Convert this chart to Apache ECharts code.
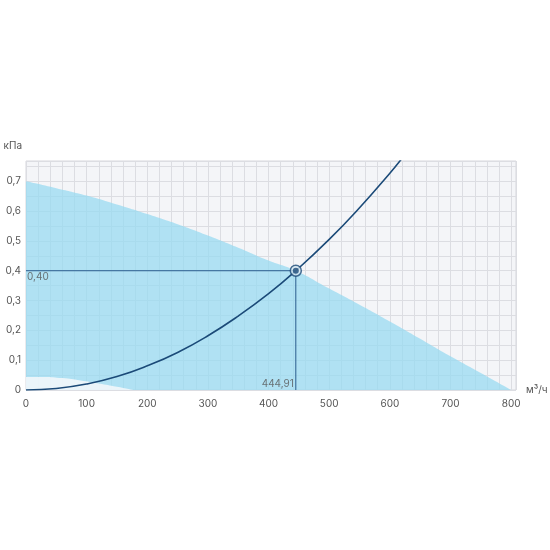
<!DOCTYPE html>
<html>
<head>
<meta charset="utf-8">
<script src="https://cdn.jsdelivr.net/npm/echarts@6/dist/echarts.min.js"></script>
<style>
  html, body { margin: 0; padding: 0; background: #fff; }
  #chart { width: 550px; height: 550px; }
</style>
</head>
<body>
<div id="chart"></div>
<script>
// fan pressure curve (upper edge of the blue zone), m3/h -> kPa
const fanFlow = [0, 50, 100, 150, 200, 250, 300, 350, 400, 444.91, 500, 550, 600, 650, 700, 750, 800];
const fanPressure = [0.700, 0.677, 0.652, 0.622, 0.590, 0.556, 0.518, 0.477, 0.434, 0.400, 0.340, 0.286, 0.230, 0.172, 0.113, 0.057, 0.000];

// white cut-out at the bottom left
const lowFlow = [0, 30, 60, 90, 120, 150, 178];
const lowPressure = [0.044, 0.044, 0.040, 0.032, 0.022, 0.011, 0.000];

// network curve
const netFlow = [0, 50, 100, 150, 200, 250, 300, 350, 400, 444.91, 500, 550, 600, 620];
const netPressure = [0, 0.005, 0.020, 0.045, 0.081, 0.126, 0.182, 0.248, 0.323, 0.400, 0.505, 0.611, 0.727, 0.777];

// working point
const opFlow = 444.91;
const opPressure = 0.40;

const xName = 'м³/ч';
const yName = 'кПа';

const zip = (a, b) => a.map((v, i) => [v, b[i]]);
const comma = (v, d) => v.toFixed(d).replace('.', ',');

const font = 'Inter, Roboto, sans-serif';
const txt = '#555';
const gridLine = '#dcdde2';
const navy = '#1b4a78';

const chart = echarts.init(document.getElementById('chart'));

const option = {
  animation: false,
  textStyle: { fontFamily: font },
  grid: {
    left: 26, right: 34, top: 161, bottom: 160,
    show: true,
    backgroundColor: '#f4f5f8',
    borderColor: '#d6d7dc',
    borderWidth: 1
  },
  xAxis: {
    type: 'value',
    min: 0, max: 808, interval: 20,
    name: xName,
    nameLocation: 'end',
    nameGap: 10,
    nameTextStyle: { color: txt, fontSize: 10, fontFamily: font, padding: [27, 0, 0, 0] },
    axisLine: { show: false },
    axisTick: { show: false },
    axisLabel: {
      color: txt, fontSize: 10, fontFamily: font, margin: 9,
      formatter: v => (Math.round(v) % 100 === 0 ? String(Math.round(v)) : '')
    },
    splitLine: { show: true, lineStyle: { color: gridLine, width: 1 } }
  },
  yAxis: {
    type: 'value',
    min: 0, max: 0.768, interval: 0.05,
    name: yName,
    nameLocation: 'end',
    nameGap: 10,
    nameTextStyle: { color: txt, fontSize: 10, fontFamily: font, align: 'right', padding: [0, 4, 0, 0] },
    axisLine: { show: false },
    axisTick: { show: false },
    axisLabel: {
      color: txt, fontSize: 10, fontFamily: font, margin: 5,
      formatter: v => {
        const k = Math.round(v * 100);
        if (k % 10 !== 0) return '';
        return k === 0 ? '0' : comma(k / 100, 1);
      }
    },
    splitLine: { show: true, lineStyle: { color: gridLine, width: 1 } }
  },
  series: [
    {
      name: 'fan',
      type: 'line',
      data: zip(fanFlow, fanPressure),
      smooth: true,
      symbol: 'none',
      lineStyle: { width: 0 },
      areaStyle: { color: 'rgba(150,218,241,0.72)', opacity: 1 },
      z: 1
    },
    {
      name: 'low',
      type: 'line',
      data: zip(lowFlow, lowPressure),
      smooth: true,
      symbol: 'none',
      lineStyle: { width: 0 },
      areaStyle: { color: 'rgba(248,249,251,0.82)', opacity: 1 },
      z: 2
    },
    {
      name: 'cross',
      type: 'line',
      data: [[0, opPressure], [opFlow, opPressure], [opFlow, 0]],
      symbol: 'none',
      lineStyle: { color: '#2b5d8d', width: 1 },
      z: 3
    },
    {
      name: 'net',
      type: 'line',
      data: zip(netFlow, netPressure),
      smooth: true,
      symbol: 'none',
      clip: true,
      lineStyle: { color: navy, width: 1.6 },
      z: 4
    },
    {
      name: 'point',
      type: 'scatter',
      data: [[opFlow, opPressure]],
      symbol: 'circle',
      symbolSize: 11,
      itemStyle: { color: '#d6e8f2', borderColor: navy, borderWidth: 1.5 },
      z: 5
    },
    {
      name: 'pointDot',
      type: 'scatter',
      data: [[opFlow, opPressure]],
      symbol: 'circle',
      symbolSize: 6,
      itemStyle: { color: navy },
      z: 6
    },
    {
      name: 'labels',
      type: 'scatter',
      symbolSize: 0,
      silent: true,
      data: [
        {
          value: [0, opPressure],
          label: { show: true, position: 'right', distance: 1, offset: [0, 6], formatter: comma(opPressure, 2) }
        },
        {
          value: [opFlow, 0],
          label: { show: true, position: 'left', distance: 2, offset: [0, -6], formatter: comma(opFlow, 2) }
        }
      ],
      label: { color: txt, fontSize: 10, fontFamily: font },
      z: 7
    }
  ]
};

chart.setOption(option);
</script>
</body>
</html>
